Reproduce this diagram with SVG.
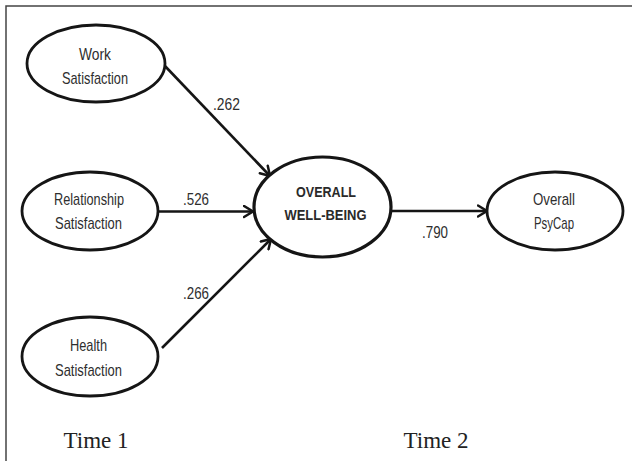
<svg xmlns="http://www.w3.org/2000/svg" width="632" height="461" viewBox="0 0 632 461">
<style>
.node ellipse{fill:#fff;stroke:#151515;stroke-width:2.8}
.lbl{font-family:"Liberation Sans",Arial,sans-serif;font-size:17px;fill:#2e2e2e;text-anchor:middle}
.big{font-family:"Liberation Sans",Arial,sans-serif;font-size:15px;font-weight:bold;fill:#2a2a2a;text-anchor:middle}
.num{font-family:"Liberation Sans",Arial,sans-serif;font-size:17px;fill:#2e2e2e;text-anchor:middle}
.time{font-family:"Liberation Serif","Times New Roman",serif;font-size:23px;fill:#222;text-anchor:middle}
.conn line{stroke:#151515;stroke-width:2.6}
</style>
<defs>
<marker id="arr" viewBox="0 0 12 14" markerWidth="12" markerHeight="14" refX="10.5" refY="7" orient="auto" markerUnits="userSpaceOnUse">
<path d="M1.5,1.5 L10.5,7 L1.5,12.5" fill="none" stroke="#151515" stroke-width="2.5" stroke-linecap="round"/>
</marker>
</defs>
<rect x="0" y="0" width="632" height="461" fill="#fff"/>
<path d="M6,461 V6 H632" fill="none" stroke="#444" stroke-width="1.5"/>

<g class="conn">
<line x1="164" y1="65" x2="270" y2="176" marker-end="url(#arr)"/>
<line x1="158" y1="211.5" x2="253" y2="211.5" marker-end="url(#arr)"/>
<line x1="162" y1="348" x2="271" y2="239" marker-end="url(#arr)"/>
<line x1="391" y1="211" x2="487" y2="211" marker-end="url(#arr)"/>
<text class="num" x="226.5" y="110" textLength="27" lengthAdjust="spacingAndGlyphs">.262</text>
<text class="num" x="196" y="204.5" textLength="26" lengthAdjust="spacingAndGlyphs">.526</text>
<text class="num" x="196" y="299" textLength="26" lengthAdjust="spacingAndGlyphs">.266</text>
<text class="num" x="435" y="238" textLength="26" lengthAdjust="spacingAndGlyphs">.790</text>
</g>

<g id="work" class="node">
<ellipse cx="96" cy="63.5" rx="69" ry="38.5"/>
<text class="lbl" x="95" y="60" textLength="32" lengthAdjust="spacingAndGlyphs">Work</text>
<text class="lbl" x="95" y="84" textLength="66" lengthAdjust="spacingAndGlyphs">Satisfaction</text>
</g>
<g id="relationship" class="node">
<ellipse cx="90" cy="211" rx="68" ry="39"/>
<text class="lbl" x="89" y="204.5" textLength="70" lengthAdjust="spacingAndGlyphs">Relationship</text>
<text class="lbl" x="88.5" y="229" textLength="67" lengthAdjust="spacingAndGlyphs">Satisfaction</text>
</g>
<g id="health" class="node">
<ellipse cx="90" cy="356.5" rx="68" ry="39.5"/>
<text class="lbl" x="88.5" y="351" textLength="37" lengthAdjust="spacingAndGlyphs">Health</text>
<text class="lbl" x="88.5" y="376" textLength="67" lengthAdjust="spacingAndGlyphs">Satisfaction</text>
</g>
<g id="wellbeing" class="node">
<ellipse cx="322.5" cy="207" rx="68.5" ry="50" style="stroke-width:3.2"/>
<text class="big" x="326" y="197" textLength="60" lengthAdjust="spacingAndGlyphs">OVERALL</text>
<text class="big" x="325.5" y="220" textLength="82" lengthAdjust="spacingAndGlyphs">WELL-BEING</text>
</g>
<g id="psycap" class="node">
<ellipse cx="555" cy="211" rx="68" ry="39"/>
<text class="lbl" x="554" y="205" textLength="42" lengthAdjust="spacingAndGlyphs">Overall</text>
<text class="lbl" x="554" y="229" textLength="40" lengthAdjust="spacingAndGlyphs">PsyCap</text>
</g>

<text class="time" x="96" y="448">Time 1</text>
<text class="time" x="436" y="448">Time 2</text>
</svg>
